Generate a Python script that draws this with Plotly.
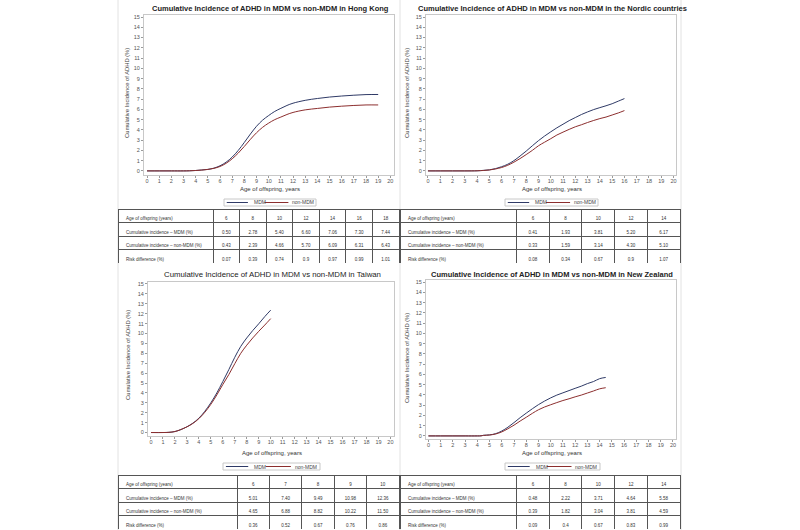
import plotly.graph_objects as go

W, H = 800, 530

# ---------------- data ----------------
hk_age = [0, 1, 2, 3, 3.5, 4, 4.5, 5, 5.5, 6, 6.5, 7, 7.5, 8, 8.5, 9, 9.5, 10, 10.5, 11, 11.5, 12, 13, 14, 15, 16, 17, 18, 19]
hk_mdm = [0, 0, 0, 0, 0.01, 0.04, 0.09, 0.15, 0.27, 0.50, 0.85, 1.35, 2.00, 2.78, 3.60, 4.35, 4.95, 5.40, 5.80, 6.10, 6.38, 6.60, 6.88, 7.06, 7.20, 7.30, 7.38, 7.44, 7.45]
hk_non = [0, 0, 0, 0, 0.01, 0.04, 0.08, 0.14, 0.25, 0.43, 0.74, 1.18, 1.74, 2.39, 3.08, 3.72, 4.25, 4.66, 5.00, 5.25, 5.50, 5.70, 5.95, 6.09, 6.22, 6.31, 6.38, 6.43, 6.43]

nd_age = [0, 1, 2, 3, 4, 4.5, 5, 5.5, 6, 6.5, 7, 7.5, 8, 8.5, 9, 9.5, 10, 10.5, 11, 11.5, 12, 12.5, 13, 13.5, 14, 14.5, 15, 15.5, 16]
nd_mdm = [0, 0, 0, 0, 0.01, 0.05, 0.10, 0.22, 0.41, 0.65, 1.00, 1.45, 1.93, 2.45, 2.95, 3.40, 3.81, 4.20, 4.55, 4.90, 5.20, 5.50, 5.75, 5.98, 6.17, 6.35, 6.55, 6.80, 7.05]
nd_non = [0, 0, 0, 0, 0.01, 0.04, 0.09, 0.19, 0.33, 0.55, 0.85, 1.20, 1.59, 2.00, 2.45, 2.80, 3.14, 3.50, 3.78, 4.05, 4.30, 4.50, 4.72, 4.92, 5.10, 5.25, 5.45, 5.65, 5.88]

tw_age = [0, 1, 1.5, 2, 2.5, 3, 3.5, 4, 4.5, 5, 5.5, 6, 6.5, 7, 7.5, 8, 8.5, 9, 9.5, 10]
tw_mdm = [0, 0, 0.02, 0.10, 0.30, 0.58, 0.95, 1.45, 2.15, 3.00, 4.00, 5.15, 6.35, 7.60, 8.70, 9.55, 10.30, 10.98, 11.70, 12.36]
tw_non = [0, 0, 0.02, 0.10, 0.30, 0.57, 0.92, 1.40, 2.05, 2.85, 3.80, 4.85, 5.85, 6.95, 8.00, 8.82, 9.55, 10.22, 10.85, 11.50]

nz_age = [0, 1, 2, 3, 4, 4.3, 4.5, 5, 5.5, 6, 6.5, 7, 7.5, 8, 8.5, 9, 9.5, 10, 10.5, 11, 11.5, 12, 12.5, 13, 13.5, 14, 14.5]
nz_mdm = [0, 0, 0, 0, 0, 0.01, 0.06, 0.10, 0.22, 0.48, 0.85, 1.30, 1.78, 2.22, 2.65, 3.05, 3.40, 3.71, 3.98, 4.20, 4.42, 4.64, 4.85, 5.10, 5.30, 5.58, 5.70]
nz_non = [0, 0, 0, 0, 0, 0.01, 0.05, 0.09, 0.19, 0.39, 0.70, 1.05, 1.45, 1.82, 2.20, 2.55, 2.82, 3.04, 3.25, 3.45, 3.62, 3.81, 3.98, 4.18, 4.38, 4.59, 4.70]

row_labels = ["Cumulative incidence \u2013 MDM (%)", "Cumulative incidence \u2013 non-MDM (%)", "Risk difference (%)"]

hk_tab_age = ["6", "8", "10", "12", "14", "16", "18"]
hk_tab_mdm = ["0.50", "2.78", "5.40", "6.60", "7.06", "7.30", "7.44"]
hk_tab_non = ["0.43", "2.39", "4.66", "5.70", "6.09", "6.31", "6.43"]
hk_tab_rd = ["0.07", "0.39", "0.74", "0.9", "0.97", "0.99", "1.01"]

nd_tab_age = ["6", "8", "10", "12", "14"]
nd_tab_mdm = ["0.41", "1.93", "3.81", "5.20", "6.17"]
nd_tab_non = ["0.33", "1.59", "3.14", "4.30", "5.10"]
nd_tab_rd = ["0.08", "0.34", "0.67", "0.9", "1.07"]

tw_tab_age = ["6", "7", "8", "9", "10"]
tw_tab_mdm = ["5.01", "7.40", "9.49", "10.98", "12.36"]
tw_tab_non = ["4.65", "6.88", "8.82", "10.22", "11.50"]
tw_tab_rd = ["0.36", "0.52", "0.67", "0.76", "0.86"]

nz_tab_age = ["6", "8", "10", "12", "14"]
nz_tab_mdm = ["0.48", "2.22", "3.71", "4.64", "5.58"]
nz_tab_non = ["0.39", "1.82", "3.04", "3.81", "4.59"]
nz_tab_rd = ["0.09", "0.4", "0.67", "0.83", "0.99"]

series_names = ["MDM", "non-MDM"]

titles = [
    "Cumulative Incidence of ADHD in MDM vs non-MDM in Hong Kong",
    "Cumulative Incidence of ADHD in MDM vs non-MDM in the Nordic countries",
    "Cumulative Incidence of ADHD in MDM vs non-MDM in Taiwan",
    "Cumulative Incidence of ADHD in MDM vs non-MDM in New Zealand",
]

MDM_COLOR = "#2f3a66"
NON_COLOR = "#8c2e2e"
FONT = "Liberation Sans, Arial, sans-serif"


def px(x):
    return x / W


def py(y):
    return 1 - y / H


fig = go.Figure()

# panel specs: frame px (left, right, top, bottom), xrange, yrange
panels = [
    dict(series=(hk_age, hk_mdm, hk_non), frame=(144, 394, 15, 175), xr=[-0.25, 20.3], yr=[-0.4, 15.2],
         title_xy=(270, 9), bold=True, xt=(270, 189), yt=(127, 93), leg=(224, 316, 199, 206)),
    dict(series=(nd_age, nd_mdm, nd_non), frame=(426, 676, 15, 175), xr=[-0.16, 20.2], yr=[-0.4, 15.2],
         title_xy=(552, 9), bold=True, xt=(552, 189), yt=(407, 93), leg=(505, 598, 199, 206)),
    dict(series=(tw_age, tw_mdm, tw_non), frame=(148, 394, 282, 436), xr=[-0.25, 20.3], yr=[-0.35, 15.2],
         title_xy=(272, 274), bold=False, xt=(272, 453), yt=(128, 355), leg=(223, 320, 463, 470)),
    dict(series=(nz_age, nz_mdm, nz_non), frame=(426, 676, 280, 439), xr=[-0.2, 20.25], yr=[-0.3, 15.2],
         title_xy=(552, 274), bold=True, xt=(552, 453), yt=(407, 358), leg=(505, 600, 463, 470)),
]

annotations = []
shapes = []
for i, p in enumerate(panels):
    n = i + 1
    xa = "x" if n == 1 else f"x{n}"
    ya = "y" if n == 1 else f"y{n}"
    age, mdm, non = p["series"]
    fig.add_trace(go.Scatter(x=age, y=mdm, mode="lines", name=series_names[0],
                             line=dict(color=MDM_COLOR, width=1, shape="spline"),
                             xaxis=xa, yaxis=ya, showlegend=False))
    fig.add_trace(go.Scatter(x=age, y=non, mode="lines", name=series_names[1],
                             line=dict(color=NON_COLOR, width=1, shape="spline"),
                             xaxis=xa, yaxis=ya, showlegend=False))
    l, r, t, b = p["frame"]
    axcommon = dict(showgrid=False, zeroline=False, showline=True, mirror=True, linecolor="#c8c8c8", linewidth=1,
                    ticks="outside", ticklen=2, tickcolor="#9a9a9a", tickfont=dict(size=5.5, color="#555", family=FONT))
    fig.update_layout(**{
        ("xaxis" if n == 1 else f"xaxis{n}"): dict(domain=[px(l), px(r)], range=p["xr"], tickmode="linear", tick0=0, dtick=1,
                                                  anchor=ya, ticklabelstandoff=-2, **axcommon),
        ("yaxis" if n == 1 else f"yaxis{n}"): dict(domain=[py(b), py(t)], range=p["yr"], tickmode="linear", tick0=0, dtick=1,
                                                  anchor=xa, **axcommon),
    })
    ttext = f"<b>{titles[i]}</b>" if p["bold"] else titles[i]
    annotations.append(dict(text=ttext, x=px(p["title_xy"][0]), y=py(p["title_xy"][1]), xref="paper", yref="paper",
                            showarrow=False, xanchor="center", yanchor="middle",
                            font=dict(size=7.5 if p["bold"] else 7.8, color="#222", family=FONT)))
    annotations.append(dict(text="Age of offspring, years", x=px(p["xt"][0]), y=py(p["xt"][1]), xref="paper", yref="paper",
                            showarrow=False, xanchor="center", yanchor="middle", font=dict(size=6, color="#333", family=FONT)))
    annotations.append(dict(text="Cumulative Incidence of ADHD (%)", x=px(p["yt"][0]), y=py(p["yt"][1]), xref="paper", yref="paper",
                            showarrow=False, xanchor="center", yanchor="middle", textangle=-90,
                            font=dict(size=5.8, color="#444", family=FONT)))
    # legend box (drawn manually to match the compact legend of the source)
    lx0, lx1, ly0, ly1 = p["leg"]
    lw = lx1 - lx0
    ymid = (ly0 + ly1) / 2
    shapes.append(dict(type="rect", xref="paper", yref="paper", x0=px(lx0), x1=px(lx1), y0=py(ly1), y1=py(ly0),
                       line=dict(color="#c8c8c8", width=1), fillcolor="white"))
    seg = [(0.03, 0.26, 0.30, MDM_COLOR, series_names[0]), (0.44, 0.70, 0.72, NON_COLOR, series_names[1])]
    for a0, a1, tx, col, name in seg:
        shapes.append(dict(type="line", xref="paper", yref="paper", x0=px(lx0 + a0 * lw), x1=px(lx0 + a1 * lw),
                           y0=py(ymid), y1=py(ymid), line=dict(color=col, width=1)))
        annotations.append(dict(text=name, x=px(lx0 + tx * lw), y=py(ymid), xref="paper", yref="paper", showarrow=False,
                                xanchor="left", yanchor="middle", font=dict(size=5, color="#444", family=FONT)))

# ---------------- tables ----------------
tables = [
    dict(age=hk_tab_age, mdm=hk_tab_mdm, non=hk_tab_non, rd=hk_tab_rd, x=(118, 399), y=(209, 264), first=95),
    dict(age=nd_tab_age, mdm=nd_tab_mdm, non=nd_tab_non, rd=nd_tab_rd, x=(400, 681), y=(209, 264), first=117),
    dict(age=tw_tab_age, mdm=tw_tab_mdm, non=tw_tab_non, rd=tw_tab_rd, x=(118, 399), y=(475, 530), first=119),
    dict(age=nz_tab_age, mdm=nz_tab_mdm, non=nz_tab_non, rd=nz_tab_rd, x=(400, 681), y=(475, 530), first=117),
]
for tb in tables:
    ncol = len(tb["age"])
    total = tb["x"][1] - tb["x"][0]
    rest = (total - tb["first"]) / ncol
    header_vals = ["Age of offspring (years)"] + tb["age"]
    cell_vals = [row_labels] + [[tb["mdm"][j], tb["non"][j], tb["rd"][j]] for j in range(ncol)]
    rowh = 13.5
    fig.add_trace(go.Table(
        domain=dict(x=[px(tb["x"][0]), px(tb["x"][1])], y=[py(tb["y"][1]), py(tb["y"][0])]),
        columnwidth=[tb["first"]] + [rest] * ncol,
        header=dict(values=header_vals, height=rowh, align=["left"] + ["center"] * ncol,
                    line=dict(color="#555555", width=1), fill=dict(color="white"),
                    font=dict(size=4.5, color="#333", family=FONT)),
        cells=dict(values=cell_vals, height=rowh, align=["left"] + ["center"] * ncol,
                   line=dict(color="#555555", width=1), fill=dict(color="white"),
                   font=dict(size=4.5, color="#333", family=FONT)),
    ))

# faint panel separators
for x0 in (118, 400, 681):
    shapes.append(dict(type="line", xref="paper", yref="paper", x0=px(x0), x1=px(x0), y0=0, y1=1,
                       line=dict(color="#e2e2e2", width=1), layer="below"))

fig.update_layout(
    width=W, height=H, margin=dict(l=0, r=0, t=0, b=0),
    paper_bgcolor="white", plot_bgcolor="white",
    annotations=annotations, shapes=shapes,
    font=dict(family=FONT),
)

fig.write_html("out.html")
